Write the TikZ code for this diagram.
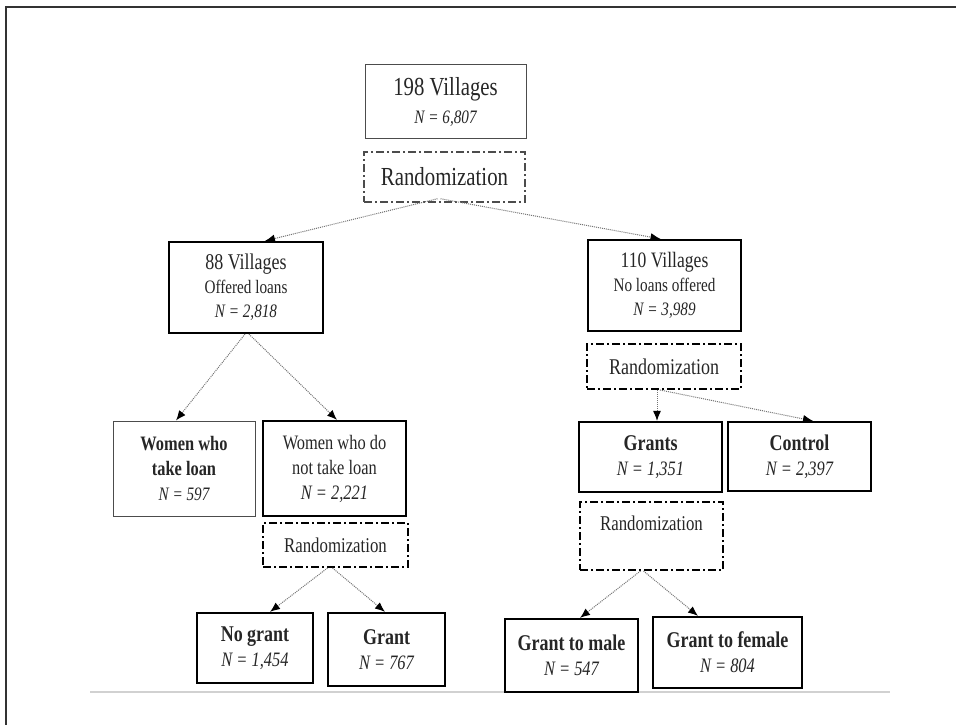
\documentclass[tikz,border=0pt]{standalone}
\usepackage{fontspec}
\setmainfont{Liberation Serif}[FakeStretch=0.8]
\usetikzlibrary{arrows.meta}
\begin{document}
\begin{tikzpicture}[x=1pt,y=-1pt,
	box/.style={draw=black, line width=2.2pt, align=center, inner sep=0pt, text=black!85},
	thinbox/.style={box, draw=black!70, line width=1pt},
	randbox/.style={draw=black, line width=2pt, dash pattern=on 8pt off 3pt on 2pt off 3pt, inner sep=0pt, text=black!85},
	arr/.style={densely dotted, line width=1pt, draw=black!55, -{Latex[black,length=10pt,width=8pt]}}]
			\useasboundingbox (0,0) rectangle (956,725);
			\draw[line width=1.5pt, black!80] (6,725) -- (6,7) -- (956,7);
			\draw[line width=2pt, black!18] (90,692) -- (890,692);
			% top
			\draw (445.5,101.5) node[thinbox, minimum width=161, minimum height=73, font=\fontsize{19}{28}\selectfont] (V198) {{\fontsize{26}{28}\selectfont 198 Villages}\\{\itshape N = 6,807}};
			\draw (444.5,177) node[randbox, draw=black!70, line width=1.5pt, minimum width=161, minimum height=50, font=\fontsize{26}{28}\selectfont] (R1) {Randomization};
			% left branch
			\draw (246,287.5) node[box, minimum width=154, minimum height=91, font=\fontsize{19}{24}\selectfont] (V88) {{\fontsize{22.5}{24}\selectfont 88 Villages}\\Offered loans\\{\itshape N = 2,818}};
			\draw (184,468.5) node[thinbox, minimum width=142, minimum height=95, font=\fontsize{20.5}{25}\selectfont] (WT) {{\bfseries Women who}\\{\bfseries take loan}\\{\fontsize{19}{25}\selectfont\itshape N = 597}};
			\draw (334.5,468.5) node[box, minimum width=143, minimum height=95, font=\fontsize{20.5}{25}\selectfont] (WN) {Women who do\\not take loan\\{\itshape N = 2,221}};
			\draw (335.5,545) node[randbox, minimum width=145, minimum height=44, font=\fontsize{21}{24}\selectfont] (R2) {Randomization};
			\draw (255,648) node[box, minimum width=116, minimum height=70, font=\fontsize{20.5}{25}\selectfont] (NG) {{\fontsize{22.5}{25}\selectfont\bfseries No grant}\\{\itshape N = 1,454}};
			\draw (386.5,649.5) node[box, minimum width=117, minimum height=73, font=\fontsize{20.5}{25}\selectfont] (GR) {{\fontsize{22.5}{25}\selectfont\bfseries Grant}\\{\itshape N = 767}};
			% right branch
			\draw (664.5,285.5) node[box, minimum width=153, minimum height=91, font=\fontsize{19}{24}\selectfont] (V110) {{\fontsize{22}{24}\selectfont 110 Villages}\\No loans offered\\{\itshape N = 3,989}};
			\draw (664,366.5) node[randbox, minimum width=154, minimum height=45, font=\fontsize{22.5}{25}\selectfont] (R3) {Randomization};
			\draw (650.5,457) node[box, minimum width=143, minimum height=70, font=\fontsize{20.5}{25}\selectfont] (GS) {{\fontsize{22.5}{25}\selectfont\bfseries Grants}\\{\itshape N = 1,351}};
			\draw (799.5,456.5) node[box, minimum width=143, minimum height=69, font=\fontsize{20.5}{25}\selectfont] (CT) {{\fontsize{22.5}{25}\selectfont\bfseries Control}\\{\itshape N = 2,397}};
			\draw (651.5,536) node[randbox, minimum width=143, text height=28pt, text depth=40pt, font=\fontsize{21}{24}\selectfont] (R4) {Randomization};
			\draw (571.5,655.5) node[box, minimum width=133, minimum height=73, font=\fontsize{20.5}{25}\selectfont] (GM) {{\fontsize{22.5}{25}\selectfont\bfseries Grant to male}\\{\itshape N = 547}};
			\draw (727.5,652.5) node[box, minimum width=149, minimum height=71, font=\fontsize{20.5}{25}\selectfont] (GF) {{\fontsize{22.5}{25}\selectfont\bfseries Grant to female}\\{\itshape N = 804}};
			% arrows
			\draw[arr] ([xshift=-7pt,yshift=4pt]R1.south) -- ([xshift=19pt]V88.north);
			\draw[arr] ([xshift=-4pt,yshift=4pt]R1.south) -- ([xshift=-4pt]V110.north);
			\draw[arr] ([xshift=-1pt]V88.south) -- ([xshift=-8pt]WT.north);
			\draw[arr] ([xshift=3pt]V88.south) -- ([xshift=2.5pt]WN.north);
			\draw[arr] ([xshift=-8pt]R2.south) -- ([xshift=15pt]NG.north);
			\draw[arr] ([xshift=-3pt]R2.south) -- ([xshift=-1.5pt]GR.north);
			\draw[arr] ([xshift=-7pt]R3.south) -- ([xshift=6.5pt]GS.north);
			\draw[arr] ([xshift=-4pt]R3.south) -- ([xshift=13.5pt]CT.north);
			\draw[arr] ([xshift=-11pt]R4.south) -- ([xshift=8.5pt]GM.north);
			\draw[arr] ([xshift=-8pt]R4.south) -- ([xshift=-29.5pt]GF.north);
		\end{tikzpicture}
\end{document}
